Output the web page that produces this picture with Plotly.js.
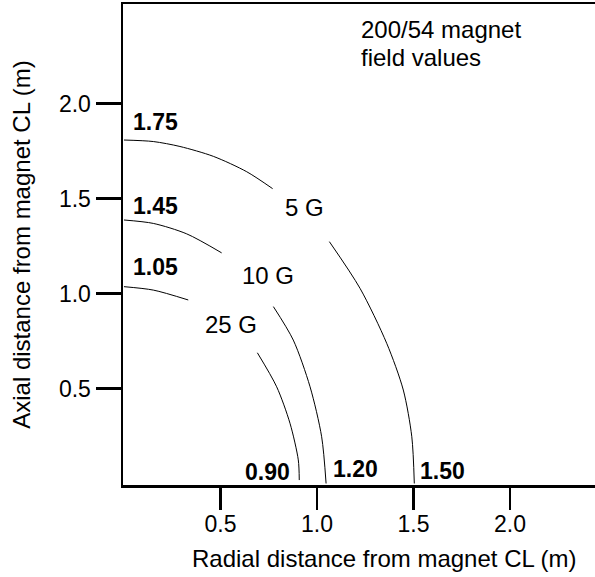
<!DOCTYPE html>
<html>
<head>
<meta charset="utf-8">
<script src="https://cdn.plot.ly/plotly-3.0.1.min.js"></script>
<style>html,body{margin:0;padding:0;background:#fff}#chart{width:595px;height:577px}</style>
</head>
<body>
<div id="chart"></div>
<script>
// Field contour lines (radial x, axial y, metres); null = gap for label
const g5x  = [0.000, 0.152, 0.290, 0.463, 0.636, 0.770, null, 1.064, 1.223, 1.361, 1.447, 1.491, 1.504];
const g5y  = [1.808, 1.800, 1.774, 1.722, 1.641, 1.552, null, 1.273, 1.027, 0.738, 0.492, 0.246, 0.000];
const g10x = [0.000, 0.152, 0.325, 0.506, null, 0.774, 0.877, 0.964, 1.024, 1.047];
const g10y = [1.387, 1.369, 1.314, 1.214, null, 0.931, 0.755, 0.509, 0.246, 0.000];
const g25x = [0.000, 0.152, 0.333, null, 0.691, 0.791, 0.860, 0.903, 0.908];
const g25y = [1.036, 1.018, 0.966, null, 0.688, 0.509, 0.317, 0.124, 0.018];

const fieldLabels = ["5 G", "10 G", "25 G"];
const axialValues = ["1.75", "1.45", "1.05"];
const radialValues = ["0.90", "1.20", "1.50"];
const tickVals = [0.5, 1.0, 1.5, 2.0];
const tickText = ["0.5", "1.0", "1.5", "2.0"];
const noteLines = ["200/54 magnet", "field values"];
const xTitle = "Radial distance from magnet CL (m)";
const yTitle = "Axial distance from magnet CL (m)";

const FONT = "Liberation Sans, Arial, Helvetica, sans-serif";
const FS = 24;   // regular text
const FB = 23;   // bold values and tick labels

const lineStyle = {color: "#000", width: 1, shape: "spline", smoothing: 0.8};
const traces = [
  {x: g5x, y: g5y, name: fieldLabels[0]},
  {x: g10x, y: g10y, name: fieldLabels[1]},
  {x: g25x, y: g25y, name: fieldLabels[2]}
].map(t => Object.assign(t, {type: "scatter", mode: "lines", line: lineStyle, connectgaps: false, hoverinfo: "skip"}));

function ann(text, x, y, bold) {
  return {text: bold ? "<b>" + text + "</b>" : text, x: x, y: y, xref: "x", yref: "y",
          xanchor: "left", yanchor: "middle", showarrow: false,
          font: {family: FONT, size: bold ? FB : FS, color: "#000"}};
}

const annotations = [
  ann(axialValues[0], 0.036, 1.905, true),
  ann(axialValues[1], 0.036, 1.462, true),
  ann(axialValues[2], 0.036, 1.138, true),
  ann(radialValues[0], 0.618, 0.058, true),
  ann(radialValues[1], 1.071, 0.078, true),
  ann(radialValues[2], 1.525, 0.064, true),
  ann(fieldLabels[0], 0.824, 1.453, false),
  ann(fieldLabels[1], 0.601, 1.097, false),
  ann(fieldLabels[2], 0.411, 0.836, false),
  ann(noteLines[0], 1.218, 2.392, false),
  ann(noteLines[1], 1.218, 2.242, false),
  // x-axis title, drawn right of centre as in the original
  {text: xTitle, xref: "paper", yref: "paper", x: 0.555, y: -0.152,
   xanchor: "center", yanchor: "middle", showarrow: false,
   font: {family: FONT, size: FS, color: "#000"}}
];

const layout = {
  width: 595, height: 577,
  margin: {l: 123, r: 0, t: 4, b: 92},
  paper_bgcolor: "#fff", plot_bgcolor: "#fff",
  showlegend: false,
  font: {family: FONT, size: FS, color: "#000"},
  xaxis: {
    range: [-0.005, 2.44], showgrid: false, zeroline: false,
    showline: true, linecolor: "#000", linewidth: 2.5, mirror: true,
    ticks: "outside", ticklen: 22, tickwidth: 2.5, tickcolor: "#000",
    tickvals: tickVals, ticktext: tickText, ticklabelstandoff: -5,
    tickfont: {family: FONT, size: FB, color: "#000"},
    automargin: false, fixedrange: true
  },
  yaxis: {
    range: [-0.008, 2.524], showgrid: false, zeroline: false,
    showline: true, linecolor: "#000", linewidth: 2.5, mirror: false,
    ticks: "outside", ticklen: 25, tickwidth: 2.5, tickcolor: "#000",
    tickvals: tickVals.slice(), ticktext: tickText.slice(),
    tickfont: {family: FONT, size: FB, color: "#000"},
    title: {text: yTitle, font: {family: FONT, size: FS, color: "#000"}, standoff: 22},
    automargin: false, fixedrange: true
  },
  annotations: annotations
};

Plotly.newPlot("chart", traces, layout, {staticPlot: true, displayModeBar: false});
</script>
</body>
</html>
